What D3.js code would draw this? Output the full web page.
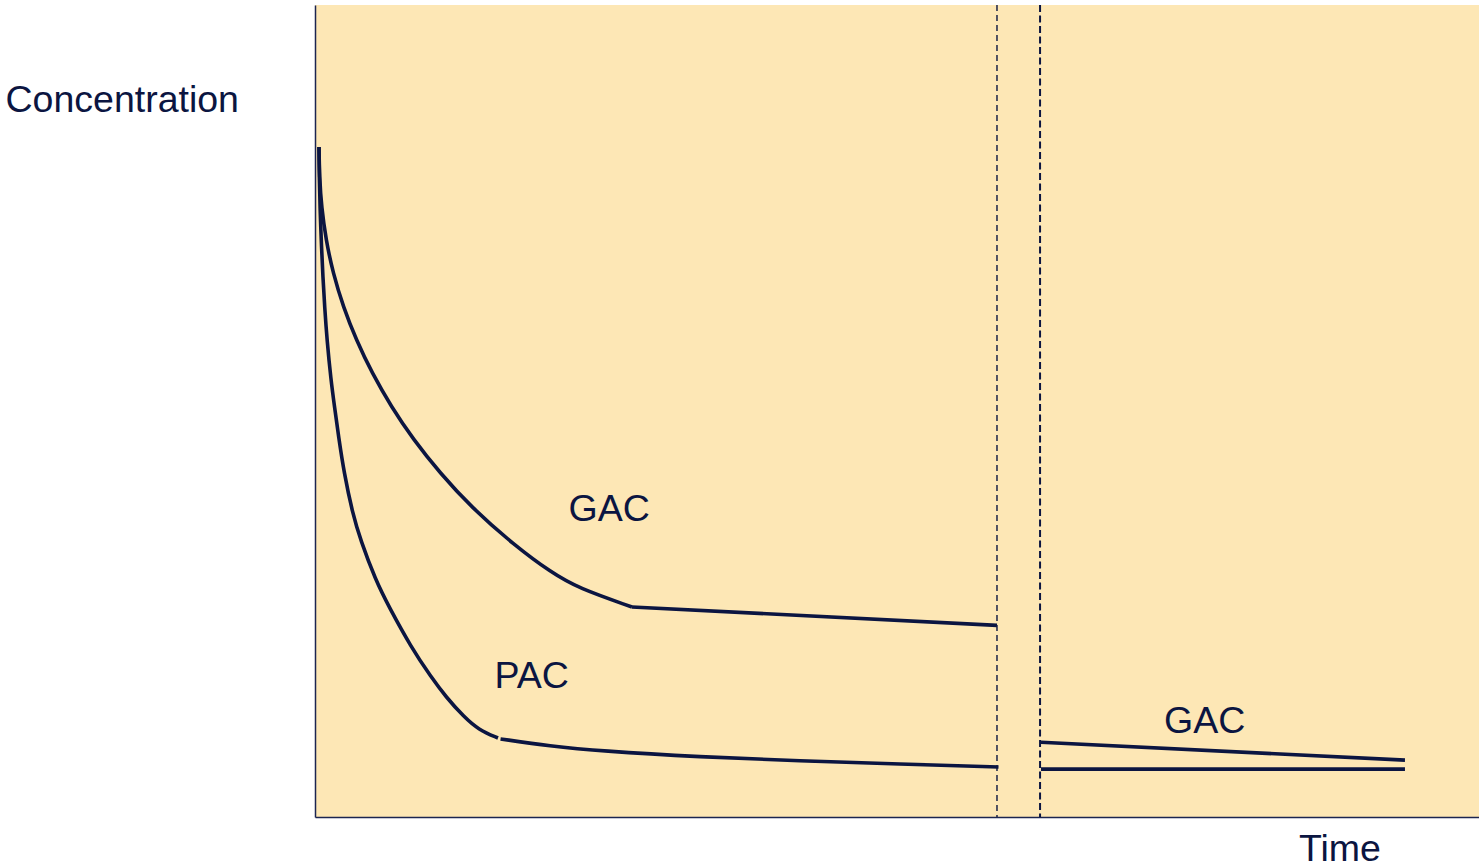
<!DOCTYPE html>
<html>
<head>
<meta charset="utf-8">
<script src="https://cdn.jsdelivr.net/npm/d3@7"></script>
<style>
  html, body { margin: 0; padding: 0; background: #ffffff; }
  svg { display: block; }
  text { font-family: "Liberation Sans", Arial, sans-serif; fill: #0b1541; }
</style>
</head>
<body>
<svg id="chart" width="1479" height="865"></svg>
<script>
// ---- data (time, concentration) in arbitrary units ----
const gacDecay = [
  [0.344, 82.51], [0.387, 78.82], [0.558, 75.12], [0.945, 71.06], [1.546, 67.00],
  [2.431, 62.81], [3.548, 58.74], [4.897, 54.68], [6.572, 50.49], [8.419, 46.55],
  [10.739, 42.36], [13.402, 38.18], [17.096, 33.50], [20.361, 30.05],
  [22.595, 28.20], [27.234, 25.86]
];
const gacPlateau = [[27.234, 25.86], [58.59, 23.6]];
const pacDecay = [
  [0.344, 82.51], [0.369, 78.82], [0.430, 75.12], [0.558, 70.20], [0.680, 66.50],
  [0.830, 62.81], [1.030, 58.74], [1.370, 53.82], [1.680, 50.49], [2.030, 46.80],
  [2.500, 42.36], [3.222, 37.44], [3.909, 34.11], [5.198, 29.19], [6.357, 25.86],
  [8.247, 20.94], [9.966, 17.24], [11.254, 14.78], [12.801, 12.32], [14.089, 10.71],
  [15.722, 9.73]
];
const pacTail = [
  [15.94, 9.61], [20.19, 8.74], [24.48, 8.13], [33.08, 7.39], [41.67, 6.90],
  [50.26, 6.53], [58.72, 6.16]
];
const gacAfter = [[62.37, 9.2], [93.64, 7.0]];
const pacAfter = [[62.37, 5.9], [93.64, 5.9]];
const breakTimes = [58.59, 62.29];
const curveLabels = [
  { text: "GAC", t: 21.78, c: 36.45 },
  { text: "PAC", t: 15.42, c: 15.89 },
  { text: "GAC", t: 72.94, c: 10.34 }
];
const axisTitles = { y: "Concentration", x: "Time" };

// ---- layout ----
const svg = d3.select("#chart");
const pL = 315, pR = 1479, pT = 5, pB = 817;
const x = d3.scaleLinear().domain([0, 100]).range([pL, pR]);
const y = d3.scaleLinear().domain([0, 100]).range([pB, pT]);
const ink = "#0b1541";

svg.append("rect")
  .attr("x", pL).attr("y", pT)
  .attr("width", pR - pL).attr("height", pB - pT)
  .attr("fill", "#fde7b5");

// axes (no ticks)
const gx = svg.append("g").attr("transform", `translate(0,${pB})`)
  .call(d3.axisBottom(x).tickValues([]).tickSizeOuter(0));
const gy = svg.append("g").attr("transform", `translate(${pL},0)`)
  .call(d3.axisLeft(y).tickValues([]).tickSizeOuter(0));
[gx, gy].forEach(g => g.select(".domain").attr("stroke", "#1c2550").attr("stroke-width", 1.5));

// dashed break lines
svg.selectAll("line.brk").data(breakTimes).enter().append("line")
  .attr("class", "brk")
  .attr("x1", d => x(d)).attr("x2", d => x(d))
  .attr("y1", pT).attr("y2", pB)
  .attr("stroke", ink)
  .attr("stroke-width", (d, i) => i === 0 ? 1.4 : 2)
  .attr("stroke-dasharray", (d, i) => i === 0 ? "6,4" : "7,3.5");

// curves
const smooth = d3.line().x(d => x(d[0])).y(d => y(d[1])).curve(d3.curveBasis);
const straight = d3.line().x(d => x(d[0])).y(d => y(d[1]));

[[gacDecay, smooth], [gacPlateau, straight], [pacDecay, smooth], [pacTail, smooth],
 [gacAfter, straight], [pacAfter, straight]].forEach(([data, gen]) => {
  svg.append("path")
    .attr("d", gen(data))
    .attr("fill", "none")
    .attr("stroke", ink)
    .attr("stroke-width", 3.6)
    .attr("stroke-linejoin", "round");
});

// labels
svg.selectAll("text.lbl").data(curveLabels).enter().append("text")
  .attr("class", "lbl")
  .attr("x", d => x(d.t)).attr("y", d => y(d.c))
  .attr("font-size", 37.5)
  .text(d => d.text);

svg.append("text").attr("x", 5.5).attr("y", 112).attr("font-size", 37.5).text(axisTitles.y);
svg.append("text").attr("x", 1299).attr("y", 861).attr("font-size", 37.5).text(axisTitles.x);
</script>
</body>
</html>
